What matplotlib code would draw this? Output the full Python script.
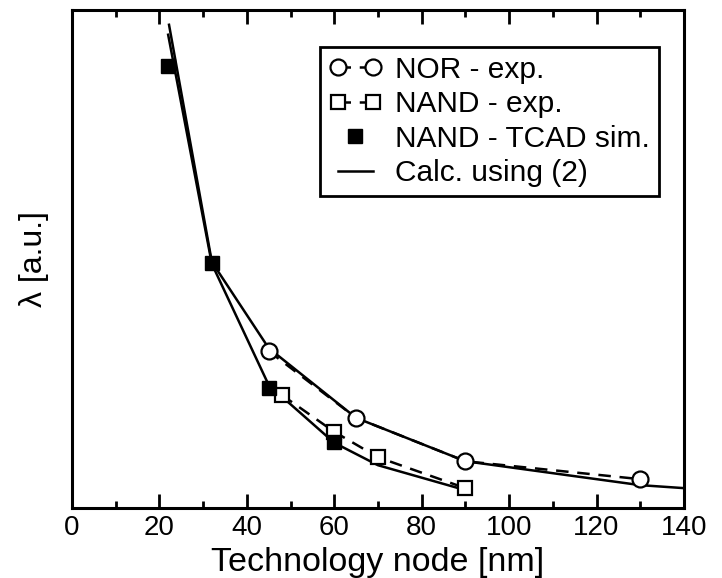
import matplotlib
matplotlib.use("Agg")
import matplotlib.pyplot as plt
from matplotlib.legend_handler import HandlerLine2D
from matplotlib.ticker import MultipleLocator, NullLocator

plt.rcParams['font.family'] = ['Liberation Sans', 'DejaVu Sans']

# Measured data (lambda in arbitrary units)
nor_node = [45, 65, 90, 130]
nor_lambda = [0.315, 0.181, 0.094, 0.058]

nand_node = [48, 60, 70, 90]
nand_lambda = [0.227, 0.153, 0.102, 0.040]

tcad_node = [22, 32, 45, 60]
tcad_lambda = [0.888, 0.492, 0.241, 0.133]

# Calculated curves using (2)
calc_nor_node = [22.2, 32, 45, 65, 90, 130, 140]
calc_nor_lambda = [0.970, 0.494, 0.321, 0.181, 0.094, 0.046, 0.040]

calc_nand_node = [22, 32, 45, 60, 70, 90]
calc_nand_lambda = [0.950, 0.490, 0.247, 0.131, 0.086, 0.036]

fig = plt.figure(figsize=(7.22, 5.78), dpi=100)
ax = fig.add_axes([0.0997, 0.121, 0.8476, 0.862])

lw = 1.8
ax.plot(calc_nor_node, calc_nor_lambda, color='black', lw=lw, zorder=2)
ax.plot(calc_nand_node, calc_nand_lambda, color='black', lw=lw, zorder=2)

h_nor, = ax.plot(nor_node, nor_lambda, color='black', lw=lw, ls=(0, (5, 3.5)),
                 marker='o', ms=11.5, mfc='white', mec='black', mew=1.6, zorder=3)
h_nand, = ax.plot(nand_node, nand_lambda, color='black', lw=lw, ls=(0, (5, 3.5)),
                  marker='s', ms=10.5, mfc='white', mec='black', mew=1.6, zorder=3)
h_tcad, = ax.plot(tcad_node, tcad_lambda, ls='none', marker='s', ms=10.5,
                  mfc='black', mec='black', zorder=4)
h_calc, = ax.plot([], [], color='black', lw=lw)

ax.set_xlim(0, 140)
ax.set_ylim(0, 1)
ax.xaxis.set_major_locator(MultipleLocator(20))
ax.xaxis.set_minor_locator(MultipleLocator(10))
ax.yaxis.set_major_locator(NullLocator())
ax.yaxis.set_minor_locator(NullLocator())
ax.tick_params(axis='x', which='both', direction='in', top=True, width=2,
               labelsize=20, pad=5)
ax.tick_params(axis='x', which='major', length=10)
ax.tick_params(axis='x', which='minor', length=5)
for s in ax.spines.values():
    s.set_linewidth(2.2)

ax.set_xlabel('Technology node [nm]', fontsize=24.5, labelpad=4)
ax.set_ylabel('λ [a.u.]', fontsize=23)
ax.yaxis.set_label_coords(-0.037, 0.5)

leg = ax.legend([h_nor, h_nand, h_tcad, h_calc],
                ['NOR - exp.', 'NAND - exp.', 'NAND - TCAD sim.', 'Calc. using (2)'],
                loc='upper right', bbox_to_anchor=(0.959, 0.926), numpoints=2,
                handler_map={h_tcad: HandlerLine2D(numpoints=1)},
                fontsize=21.5, fancybox=False, framealpha=1, edgecolor='black',
                handlelength=1.75, handletextpad=0.45, borderpad=0.3,
                labelspacing=0.22, borderaxespad=0)
leg.get_frame().set_linewidth(2)

fig.savefig('out.png', dpi=100)
